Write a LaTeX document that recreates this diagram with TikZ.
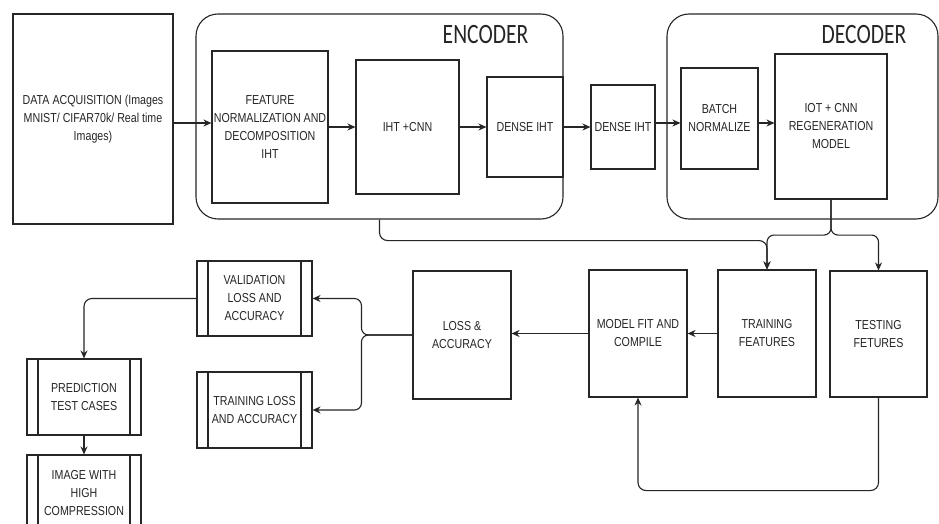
\documentclass[tikz,border=0pt]{standalone}
\usepackage{fontspec}
\setmainfont{Liberation Sans}[FakeStretch=0.82]
\newfontfamily\headfont{Carlito}[FakeStretch=0.77]
\usetikzlibrary{arrows.meta}
\definecolor{ink}{HTML}{262626}
\tikzset{
  box/.style={draw=ink, line width=1.1pt, inner sep=0pt, align=center,
    text=ink, font=\fontsize{13}{18}\selectfont},
  group/.style={draw=ink, line width=1.1pt, rounded corners=22pt, inner sep=0pt},
  proc/.style={box, path picture={
    \draw[ink, line width=1.1pt]
      ([xshift=11pt]path picture bounding box.north west) -- ([xshift=11pt]path picture bounding box.south west)
      ([xshift=-11pt]path picture bounding box.north east) -- ([xshift=-11pt]path picture bounding box.south east);}},
  arr/.style={draw=ink, line width=1.1pt, -{Stealth[length=8pt,width=7pt]}},
  heading/.style={anchor=base, text=ink, font=\headfont\fontsize{28}{30}\selectfont},
}
\begin{document}
\begin{tikzpicture}[x=1pt, y=-1pt]
\useasboundingbox[fill=white] (0,0) rectangle (939,524);

% encoder and decoder groups
\node[group, minimum width=367pt, minimum height=205pt] (enc) at (379.5,116.5) {};
\node[group, minimum width=271pt, minimum height=205pt] (dec) at (802.5,116.5) {};
\node[heading] (enct) at (485.5,44) {ENCODER};
\node[heading] (dect) at (864,44) {DECODER};

% top row
\node[box, minimum width=160pt, minimum height=210pt] (data) at (93,119)
  {DATA ACQUISITION (Images\\MNIST/ CIFAR70k/ Real time\\Images)};
\node[box, minimum width=116pt, minimum height=152pt] (feat) at (270,127)
  {FEATURE\\NORMALIZATION AND\\DECOMPOSITION\\IHT};
\node[box, minimum width=103pt, minimum height=134pt] (iht) at (407.5,127) {IHT +CNN};
\node[box, minimum width=76pt, minimum height=100pt] (den1) at (525,127) {DENSE IHT};
\node[box, minimum width=64pt, minimum height=84pt] (den2) at (623,127) {DENSE IHT};
\node[box, minimum width=77pt, minimum height=101pt] (batch) at (719.5,118.5) {BATCH\\NORMALIZE};
\node[box, minimum width=112pt, minimum height=145pt] (iot) at (831,126.5)
  {IOT + CNN\\REGENERATION\\MODEL};

% bottom row
\node[box, minimum width=98pt, minimum height=128pt] (loss) at (462,335) {LOSS \&\\ACCURACY};
\node[box, minimum width=98pt, minimum height=127pt] (mfc) at (638,333.5) {MODEL FIT AND\\COMPILE};
\node[box, minimum width=98pt, minimum height=127pt] (trf) at (767,333.5) {TRAINING\\FEATURES};
\node[box, minimum width=97pt, minimum height=126pt] (tef) at (878.5,334) {TESTING\\FETURES};
\node[proc, minimum width=115pt, minimum height=75pt] (val) at (254.5,298.5)
  {VALIDATION\\LOSS AND\\ACCURACY};
\node[proc, minimum width=115pt, minimum height=76pt] (trl) at (254.5,410)
  {TRAINING LOSS\\AND ACCURACY};
\node[proc, minimum width=114pt, minimum height=76pt] (pred) at (84,397)
  {PREDICTION\\TEST CASES};
\node[proc, minimum width=114pt, minimum height=76pt] (img) at (84,493)
  {IMAGE WITH\\HIGH\\COMPRESSION};

% top row flow
\draw[arr] ([yshift=-4pt]data.east) -- ([yshift=-4pt]data.east -| feat.west);
\draw[arr] (feat.east) -- (iht.west);
\draw[arr] (iht.east) -- (den1.west);
\draw[arr] (den1.east) -- (den2.west);
\draw[arr] ([yshift=4pt]den2.east) -- ([yshift=4pt]den2.east -| batch.west);
\draw[arr] ([yshift=-4.5pt]batch.east) -- ([yshift=-4.5pt]batch.east -| iot.west);

% feeds into the feature sets
\draw[arr, rounded corners=8pt] (enc.south) -- ++(0,21) -| (trf.north);
\draw[arr, rounded corners=7pt] (iot.south) -- ++(0,35.5) -| (trf.north);
\draw[arr, rounded corners=7pt] (iot.south) -- ++(0,35.5) -| (tef.north);

% training and evaluation
\draw[arr] (trf.west) -- (trf.west -| mfc.east);
\draw[arr] (mfc.west) -- (mfc.west -| loss.east);
\draw[arr, rounded corners=8pt] (tef.south) -- ++(0,93) -| (mfc.south);
\draw[arr, rounded corners=7pt] (loss.west) -- ++(-51,0) |- (val.east);
\draw[arr, rounded corners=7pt] (loss.west) -- ++(-51,0) |- (trl.east);
\draw[arr, rounded corners=8pt] (val.west) -| (pred.north);
\draw[arr] (pred.south) -- (img.north);
\end{tikzpicture}
\end{document}
